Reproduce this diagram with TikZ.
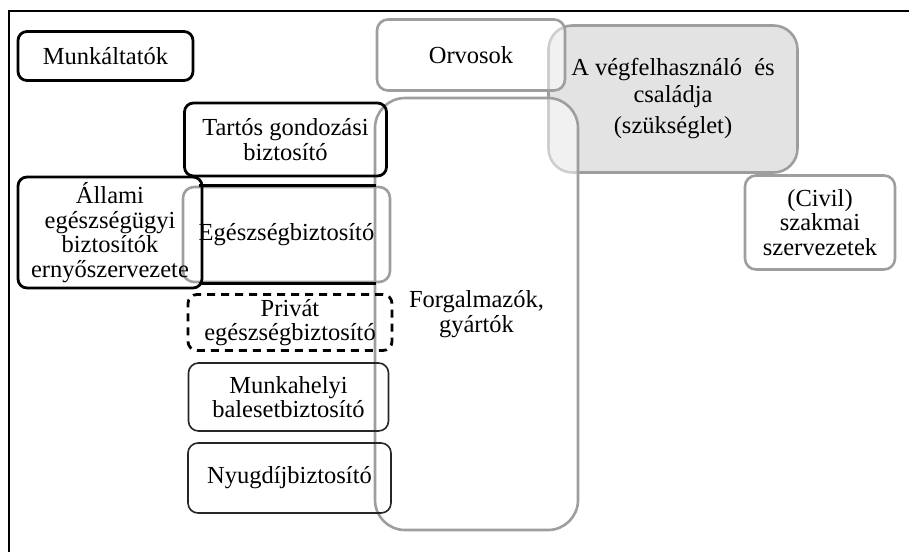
\documentclass[tikz,border=0pt]{standalone}
\usepackage{fontspec}
\setmainfont{Liberation Serif}
\begin{document}
\begin{tikzpicture}[x=1pt,y=-1pt,
  every node/.style={font=\fontsize{24.5}{24.5}\selectfont, align=center, inner sep=0pt},
  blackbox/.style={draw=black, line width=2.8pt, rounded corners=9pt},
  thinbox/.style={draw=black!85, line width=1.6pt, rounded corners=10pt},
  greybox/.style={draw=black!38, line width=2.6pt, rounded corners=11pt},
  dashbox/.style={draw=black, line width=2.8pt, rounded corners=9pt, dash pattern=on 8pt off 6pt},
  veil/.style={fill=white, fill opacity=0.5, text opacity=1}]
\useasboundingbox (0,0) rectangle (909,552);

% outer frame (only its top and left sides lie in view)
\coordinate (frameTL) at (9,11);
\coordinate (frameTR) at (909,11);
\coordinate (frameBL) at (9,552);
\draw[line width=2pt] (frameBL) -- (frameTL) -- (frameTR);

% the end user and family
\node[draw=black!38, line width=2.6pt, rounded corners=24pt, fill=black!11,
      minimum width=249pt, minimum height=147pt] (user) at (673,99)
  {A végfelhasználó~ és\\[2pt] családja\\[7pt] (szükséglet)};

% doctors, drawn over the user box with a light veil
\node[greybox, veil, minimum width=188pt, minimum height=71pt] (orvos) at (471,55) {Orvosok};

% distributors and manufacturers
\node[greybox, veil, rounded corners=30pt, minimum width=203pt, minimum height=432pt] (forg) at (476.5,314)
  {Forgalmazók,\\ gyártók};

% employers
\node[blackbox, minimum width=175pt, minimum height=49pt] (munkalt) at (105.5,56) {Munkáltatók};

% insurers column
\node[blackbox, minimum width=202pt, minimum height=73pt] (tartos) at (285.5,139.5)
  {Tartós gondozási\\ biztosító};

\node[greybox, minimum width=207pt, minimum height=95pt] (egesz) at (286.5,234.5) {Egészségbiztosító};
\draw[line width=2.6pt] ([xshift=17pt]egesz.north west) -- ([xshift=-15pt]egesz.north east);
\draw[line width=2.6pt] ([xshift=17pt]egesz.south west) -- ([xshift=-15pt]egesz.south east);

\node[blackbox, minimum width=184pt, minimum height=111pt] (allami) at (110,232.5)
  {Állami\\ egészségügyi\\ biztosítók\\ ernyőszervezete};

\node[dashbox, minimum width=204pt, minimum height=56pt] (privat) at (290,322.5)
  {Privát\\ egészségbiztosító};

\node[thinbox, minimum width=200pt, minimum height=68pt] (munkahelyi) at (288.5,397)
  {Munkahelyi\\ balesetbiztosító};

\node[thinbox, minimum width=203pt, minimum height=70pt] (nyugdij) at (289.5,478) {Nyugdíjbiztosító};

% professional organisations
\node[greybox, minimum width=150pt, minimum height=94pt] (civil) at (820,222.5)
  {(Civil)\\ szakmai\\ szervezetek};
\end{tikzpicture}
\end{document}
